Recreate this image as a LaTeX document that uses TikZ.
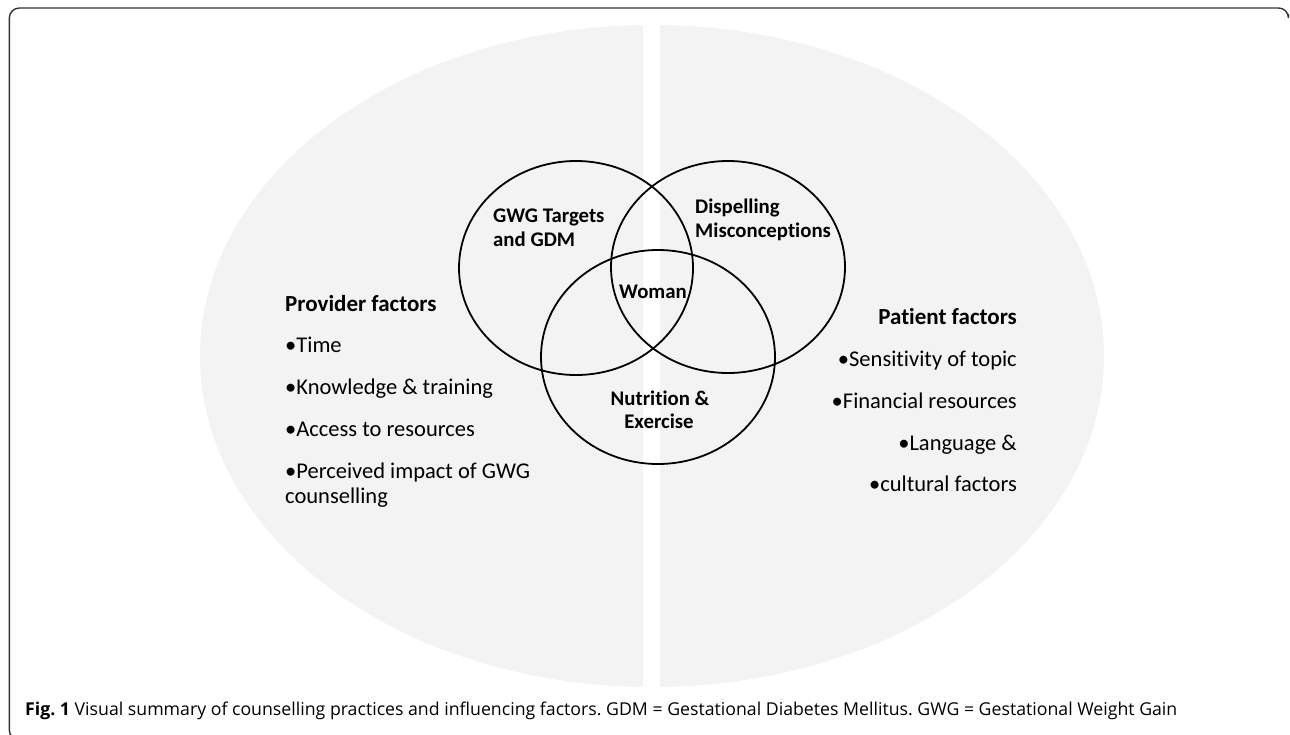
\documentclass[tikz,border=0pt]{standalone}
\usepackage{fontspec}
\setmainfont{Carlito}[Ligatures=NoCommon]
\newfontfamily\capfont{Open Sans}
\definecolor{ellgray}{HTML}{F3F3F3}
\definecolor{framegray}{HTML}{333333}
\begin{document}
\frenchspacing
\begin{tikzpicture}[x=1pt,y=-1pt,
  vennc/.style={draw=black, line width=1.8pt},
  vlabel/.style={font=\bfseries\fontsize{20.8}{24}\selectfont, inner sep=0pt},
  headtxt/.style={font=\bfseries\fontsize{23}{27}\selectfont, inner sep=0pt},
  itemtxt/.style={font=\fontsize{22.5}{27}\selectfont, inner sep=0pt},
  frameline/.style={draw=framegray, line width=1.4pt}]
\useasboundingbox (0,0) rectangle (1290,734);
% background ellipse split by a white band
\fill[ellgray] (652,356) ellipse [x radius=452, y radius=331];
\fill[white] (643,15) rectangle (660,700);
% frame
\draw[frameline, rounded corners=10] (30,740) -- (9.3,740) -- (9.3,8) -- (1288.5,8) -- (1288.5,14);
% Venn circles
\draw[vennc] (576,268) ellipse [x radius=117, y radius=107];
\draw[vennc] (728,267) ellipse [x radius=117, y radius=106];
\draw[vennc] (658,357) ellipse [x radius=117, y radius=107];
% Venn labels
\node[vlabel, anchor=base west] (gwg1) at (493,222) {GWG Targets};
\node[vlabel, anchor=base west] (gwg2) at (493,246) {and GDM};
\node[vlabel, anchor=base west] (dis1) at (695,213) {Dispelling};
\node[vlabel, anchor=base west] (dis2) at (695,237) {Misconceptions};
\node[vlabel, anchor=base] (wom) at (653,298) {Woman};
\node[vlabel, anchor=base] (nut1) at (660,405) {Nutrition \&};
\node[vlabel, anchor=base] (nut2) at (659,428) {Exercise};
% Provider factors
\node[headtxt, anchor=base west] (ph) at (285,311) {Provider factors};
\node[itemtxt, anchor=base west] (p1) at (285,352) {•Time};
\node[itemtxt, anchor=base west] (p2) at (285,394) {•Knowledge \& training};
\node[itemtxt, anchor=base west] (p3) at (285,436) {•Access to resources};
\node[itemtxt, anchor=base west] (p4) at (285,478) {•Perceived impact of GWG};
\node[itemtxt, anchor=base west] (p5) at (285,503) {counselling};
% Patient factors
\node[headtxt, anchor=base east] (qh) at (1017,324) {Patient factors};
\node[itemtxt, anchor=base east] (q1) at (1017,366) {•Sensitivity of topic};
\node[itemtxt, anchor=base east] (q2) at (1017,408) {•Financial resources};
\node[itemtxt, anchor=base east] (q3) at (1017,450) {•Language \&};
\node[itemtxt, anchor=base east] (q4) at (1017,491) {•cultural factors};
% caption
\node[anchor=base west, inner sep=0pt, font=\capfont\fontsize{16}{19}\selectfont] (cap) at (25,715)
  {\resizebox{1152pt}{!}{\textbf{Fig. 1} Visual summary of counselling practices and influencing factors. GDM = Gestational Diabetes Mellitus. GWG = Gestational Weight Gain}};
\end{tikzpicture}
\end{document}
